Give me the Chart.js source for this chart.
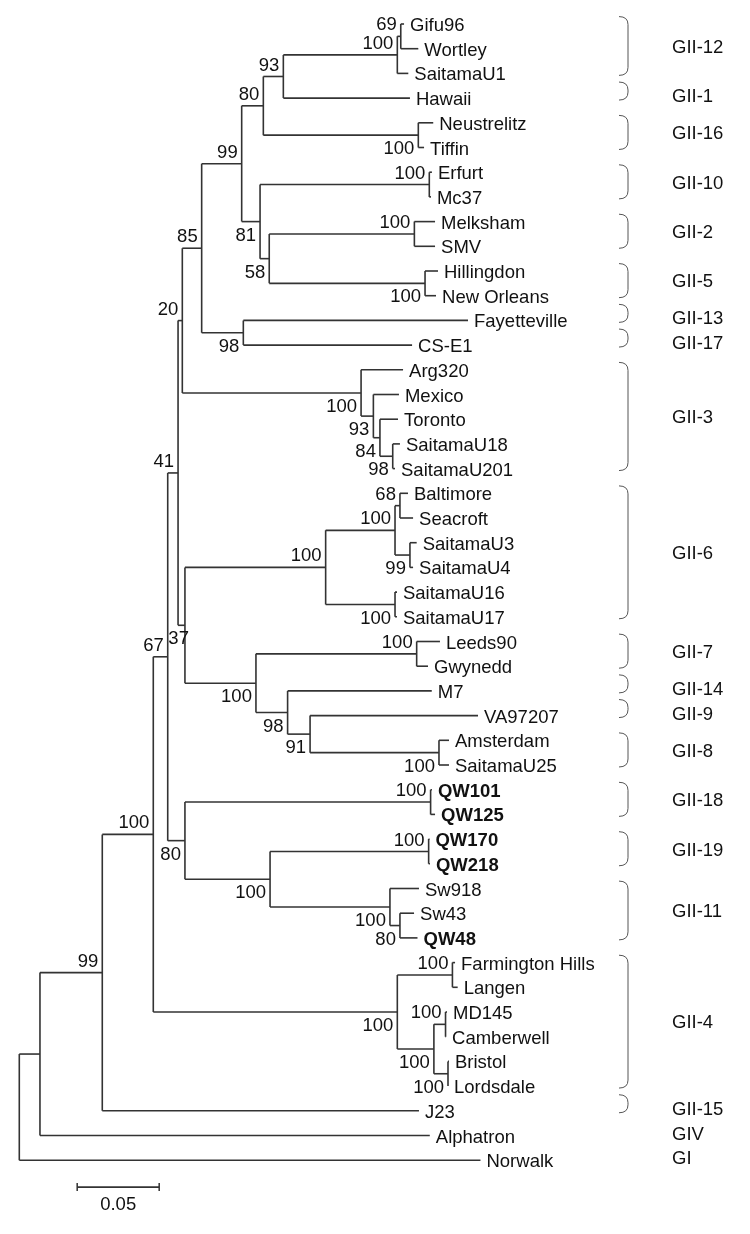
<!DOCTYPE html>
<html>
<head>
<meta charset="utf-8">
<script src="https://cdn.jsdelivr.net/npm/chart.js@4"></script>
<style>
  body { margin: 0; background: #fff; }
  #wrap { width: 750px; height: 1234px; position: relative; }
</style>
</head>
<body>
<div id="wrap"><canvas id="tree"></canvas></div>
<script>
// Leaves, top to bottom (row = index)
const leafNames = [
  'Gifu96', 'Wortley', 'SaitamaU1', 'Hawaii', 'Neustrelitz', 'Tiffin', 'Erfurt', 'Mc37',
  'Melksham', 'SMV', 'Hillingdon', 'New Orleans', 'Fayetteville', 'CS-E1', 'Arg320', 'Mexico',
  'Toronto', 'SaitamaU18', 'SaitamaU201', 'Baltimore', 'Seacroft', 'SaitamaU3', 'SaitamaU4',
  'SaitamaU16', 'SaitamaU17', 'Leeds90', 'Gwynedd', 'M7', 'VA97207', 'Amsterdam', 'SaitamaU25',
  'QW101', 'QW125', 'QW170', 'QW218', 'Sw918', 'Sw43', 'QW48', 'Farmington Hills', 'Langen',
  'MD145', 'Camberwell', 'Bristol', 'Lordsdale', 'J23', 'Alphatron', 'Norwalk'
];
// distance of each tip from the root (substitutions/site)
const leafTips = [
  0.2346, 0.2433, 0.2372, 0.2382, 0.2524, 0.2468, 0.2516, 0.2510,
  0.2535, 0.2535, 0.2553, 0.2541, 0.2736, 0.2395, 0.2340, 0.2315,
  0.2309, 0.2321, 0.2291, 0.2370, 0.2401, 0.2423, 0.2401,
  0.2303, 0.2303, 0.2565, 0.2492, 0.2515, 0.2797, 0.2620, 0.2620,
  0.2516, 0.2535, 0.2501, 0.2504, 0.2437, 0.2407, 0.2428, 0.2657, 0.2673,
  0.2608, 0.2602, 0.2620, 0.2614, 0.2437, 0.2503, 0.2812
];
const boldLeaves = ['QW101', 'QW125', 'QW170', 'QW218', 'QW48'];

// Internal nodes, children before parents
const nodeIds = [
  'n69', 'n100a', 'n93', 'n100b', 'n80a', 'n100c', 'n100d', 'n100e', 'n58', 'n81', 'n99a',
  'n98a', 'n85', 'n98b', 'n84', 'n93b', 'n100f', 'n20', 'n68', 'n99b', 'n100g', 'n100h',
  'n100i', 'n100j', 'n100k', 'n91', 'n98c', 'n100l', 'n37', 'n41', 'n100m', 'n100n', 'n80b',
  'n100o', 'n100p', 'n80c', 'n67', 'n100q', 'n100r', 'n100s', 'n100t', 'n100u', 'n100v',
  'n99c', 'nB', 'root'
];
const nodeChildren = [
  ['Gifu96', 'Wortley'], ['n69', 'SaitamaU1'], ['n100a', 'Hawaii'], ['Neustrelitz', 'Tiffin'],
  ['n93', 'n100b'], ['Erfurt', 'Mc37'], ['Melksham', 'SMV'], ['Hillingdon', 'New Orleans'],
  ['n100d', 'n100e'], ['n100c', 'n58'], ['n80a', 'n81'],
  ['Fayetteville', 'CS-E1'], ['n99a', 'n98a'], ['SaitamaU18', 'SaitamaU201'], ['Toronto', 'n98b'],
  ['Mexico', 'n84'], ['Arg320', 'n93b'], ['n85', 'n100f'], ['Baltimore', 'Seacroft'],
  ['SaitamaU3', 'SaitamaU4'], ['n68', 'n99b'], ['SaitamaU16', 'SaitamaU17'],
  ['n100g', 'n100h'], ['Leeds90', 'Gwynedd'], ['Amsterdam', 'SaitamaU25'], ['VA97207', 'n100k'],
  ['M7', 'n91'], ['n100j', 'n98c'], ['n100i', 'n100l'], ['n20', 'n37'], ['QW101', 'QW125'],
  ['QW170', 'QW218'], ['Sw43', 'QW48'],
  ['Sw918', 'n80b'], ['n100n', 'n100o'], ['n100m', 'n100p'], ['n41', 'n80c'],
  ['Farmington Hills', 'Langen'], ['MD145', 'Camberwell'], ['Bristol', 'Lordsdale'],
  ['n100r', 'n100s'], ['n100q', 'n100t'], ['n67', 'n100u'],
  ['n100v', 'J23'], ['n99c', 'Alphatron'], ['nB', 'Norwalk']
];
const nodeDepth = [
  0.2326, 0.2305, 0.1610, 0.2433, 0.1488, 0.2500, 0.2409, 0.2474, 0.1524, 0.1468, 0.1356,
  0.1366, 0.1112, 0.2277, 0.2199, 0.2159, 0.2084, 0.0994, 0.2321, 0.2382, 0.2291, 0.2291,
  0.1868, 0.2423, 0.2559, 0.1773, 0.1636, 0.1443, 0.1010, 0.0968, 0.2508, 0.2496, 0.2321,
  0.2260, 0.1529, 0.1010, 0.0905, 0.2641, 0.2599, 0.2614, 0.2528, 0.2305, 0.0817,
  0.0506, 0.0126, 0
];
const nodeSupport = [
  69, 100, 93, 100, 80, 100, 100, 100, 58, 81, 99,
  98, 85, 98, 84, 93, 100, 20, 68, 99, 100, 100,
  100, 100, 100, 91, 98, 100, 37, 41, 100, 100, 80,
  100, 100, 80, 67, 100, 100, 100, 100, 100, 100,
  99, null, null
];

// Genotype brackets on the right
const groupNames = ['GII-12', 'GII-1', 'GII-16', 'GII-10', 'GII-2', 'GII-5', 'GII-13', 'GII-17',
  'GII-3', 'GII-6', 'GII-7', 'GII-14', 'GII-9', 'GII-8', 'GII-18', 'GII-19', 'GII-11', 'GII-4',
  'GII-15', 'GIV', 'GI'];
const groupFirst = [0, 3, 4, 6, 8, 10, 12, 13, 14, 19, 25, 27, 28, 29, 31, 33, 35, 38, 44, 45, 46];
const groupLast  = [2, 3, 5, 7, 9, 11, 12, 13, 18, 24, 26, 27, 28, 30, 32, 34, 37, 43, 44, 45, 46];
const groupBracket = [true, true, true, true, true, true, true, true, true, true, true, true,
  true, true, true, true, true, true, true, false, false];

const scaleBarLength = 0.05;
const scaleBarStart = 0.0353;

// which side of the branch each support value sits on ('a' above, 'b' below)
const supportBelow = ['n100b', 'n100e', 'n58', 'n81', 'n98a', 'n98b', 'n84', 'n93b', 'n100f',
  'n99b', 'n100h', 'n100k', 'n91', 'n98c', 'n100l', 'n37', 'n80b', 'n100o', 'n100p', 'n80c',
  'n100s', 'n100t', 'n100u'];
const supportShiftX = { n37: 8 };

const FONT = '"Liberation Sans", Arial, sans-serif';
const LINE = '#333333';

// resolve node positions
const pos = {};
leafNames.forEach((n, i) => { pos[n] = { x: leafTips[i], y: i }; });
nodeIds.forEach((id, i) => {
  const kids = nodeChildren[i];
  pos[id] = { x: nodeDepth[i], y: (pos[kids[0]].y + pos[kids[kids.length - 1]].y) / 2 };
});

// branch segments: one vertical per node, one horizontal per child
const segments = [];
nodeIds.forEach((id, i) => {
  const kids = nodeChildren[i];
  const p = pos[id];
  segments.push([{ x: p.x, y: pos[kids[0]].y }, { x: p.x, y: pos[kids[kids.length - 1]].y }]);
  kids.forEach(k => {
    segments.push([{ x: p.x, y: pos[k].y }, { x: pos[k].x, y: pos[k].y }]);
  });
});
// scale bar
segments.push([{ x: scaleBarStart, y: 47.09 }, { x: scaleBarStart + scaleBarLength, y: 47.09 }]);

const treeText = {
  id: 'treeText',
  afterDatasetsDraw(chart) {
    const ctx = chart.ctx;
    const xs = chart.scales.x, ys = chart.scales.y;
    ctx.save();
    ctx.fillStyle = '#111';
    ctx.textBaseline = 'middle';

    // leaf names
    ctx.textAlign = 'left';
    leafNames.forEach((n, i) => {
      ctx.font = (boldLeaves.includes(n) ? 'bold ' : '') + '18.5px ' + FONT;
      ctx.fillText(n, xs.getPixelForValue(leafTips[i]) + 6, ys.getPixelForValue(i) + 2);
    });

    // bootstrap values
    ctx.font = '18.5px ' + FONT;
    ctx.textAlign = 'right';
    nodeIds.forEach((id, i) => {
      if (nodeSupport[i] == null) return;
      const below = supportBelow.includes(id);
      const px = xs.getPixelForValue(pos[id].x) - 4 + (supportShiftX[id] || 0);
      const py = ys.getPixelForValue(pos[id].y) + (below ? 14 : -11);
      ctx.fillText(String(nodeSupport[i]), px, py);
    });

    // brackets and genotype names
    ctx.textAlign = 'left';
    ctx.strokeStyle = '#555';
    ctx.lineWidth = 1;
    groupNames.forEach((g, i) => {
      const single = groupFirst[i] === groupLast[i];
      const top = ys.getPixelForValue(groupFirst[i] - (single ? 0.65 : 0.3));
      const bot = ys.getPixelForValue(groupLast[i] + 0.08);
      if (groupBracket[i]) {
        const xr = 628, xl = 619, r = Math.min(8, (bot - top) / 2 - 1);
        ctx.beginPath();
        ctx.moveTo(xl, top);
        ctx.quadraticCurveTo(xr, top, xr, top + r);
        ctx.lineTo(xr, bot - r);
        ctx.quadraticCurveTo(xr, bot, xl, bot);
        ctx.stroke();
      }
      const mid = ys.getPixelForValue((groupFirst[i] + groupLast[i]) / 2) - 1;
      ctx.fillText(g, 672, mid);
    });

    // scale bar end ticks and label
    const bx0 = xs.getPixelForValue(scaleBarStart);
    const bx1 = xs.getPixelForValue(scaleBarStart + scaleBarLength);
    const by = ys.getPixelForValue(47.09);
    ctx.strokeStyle = LINE;
    ctx.lineWidth = 1.5;
    ctx.beginPath();
    ctx.moveTo(bx0, by - 4); ctx.lineTo(bx0, by + 4);
    ctx.moveTo(bx1, by - 4); ctx.lineTo(bx1, by + 4);
    ctx.stroke();
    ctx.textAlign = 'center';
    ctx.fillText('0.05', (bx0 + bx1) / 2, by + 18);
    ctx.restore();
  }
};

const ctx = document.getElementById('tree').getContext('2d');
const treeChart = new Chart(ctx, {
  type: 'scatter',
  data: {
    datasets: segments.map(s => ({
      data: s,
      showLine: true,
      borderColor: LINE,
      borderWidth: 1.6,
      pointRadius: 0,
      clip: false
    }))
  },
  options: {
    responsive: true,
    maintainAspectRatio: false,
    animation: false,
    events: [],
    layout: { padding: 0 },
    scales: {
      x: { type: 'linear', display: false, min: -19.3 / 1640, max: (750 - 19.3) / 1640 },
      y: { type: 'linear', display: false, reverse: true, min: -24 / 24.7, max: (1234 - 24) / 24.7 }
    },
    plugins: {
      legend: { display: false },
      tooltip: { enabled: false }
    }
  },
  plugins: [treeText]
});
</script>
</body>
</html>
